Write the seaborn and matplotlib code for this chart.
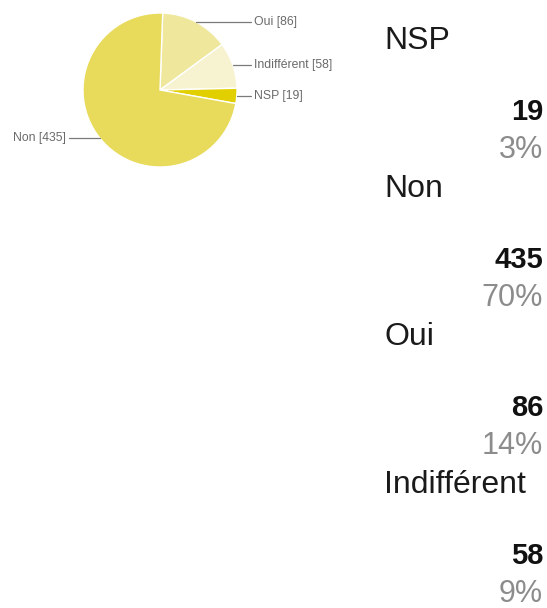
import numpy as np
import matplotlib
matplotlib.use('Agg')
import matplotlib.pyplot as plt
import seaborn as sns

# --- style ---
sns.set_style('white')
plt.rcParams['font.family'] = ['Liberation Sans', 'DejaVu Sans']

# --- data ---
pie_labels = ['Oui', 'Indifférent', 'NSP', 'Non']
pie_counts = [86, 58, 19, 435]
pie_colors = ['#efe79b', '#f7f3d1', '#e2cf00', '#e8da5a']

list_labels = ['NSP', 'Non', 'Oui', 'Indifférent']
list_counts = [19, 435, 86, 58]
list_pcts = ['3%', '70%', '14%', '9%']

W, H = 547, 608
fig = plt.figure(figsize=(W / 100, H / 100), dpi=100)
fig.patch.set_facecolor('white')

# --- pie ---
ax = fig.add_axes([83 / W, 1 - 167 / H, 154 / W, 154 / H])
wedges, _ = ax.pie(pie_counts, colors=pie_colors, startangle=88, counterclock=False,
                   radius=1, wedgeprops=dict(edgecolor='white', linewidth=1))
ax.set_xlim(-1, 1)
ax.set_ylim(-1, 1)
ax.axis('off')

for w, lab, n in zip(wedges, pie_labels, pie_counts):
    mid = np.deg2rad((w.theta1 + w.theta2) / 2)
    x, y = np.cos(mid), np.sin(mid)
    side = 1 if x > 0 else -1
    ax.plot([x, side * 1.18], [y, y], color='#7a7a7a', lw=0.9, clip_on=False)
    ax.text(side * 1.22, y, f'{lab} [{n}]', ha='left' if side > 0 else 'right',
            va='center', fontsize=8.8, color='#6a6a6a', clip_on=False)

# --- liste a droite ---
for i, (lab, n, p) in enumerate(zip(list_labels, list_counts, list_pcts)):
    top = i * 148
    fig.text(384 / W, 1 - (top + 49) / H, lab, ha='left', va='baseline',
             fontsize=23, color='#1a1a1a')
    fig.text(543 / W, 1 - (top + 120) / H, str(n), ha='right', va='baseline',
             fontsize=21, fontweight='bold', color='#111111')
    fig.text(543 / W, 1 - (top + 158) / H, p, ha='right', va='baseline',
             fontsize=22, color='#8c8c8c')

plt.savefig('out.png', dpi=100, facecolor='white')
